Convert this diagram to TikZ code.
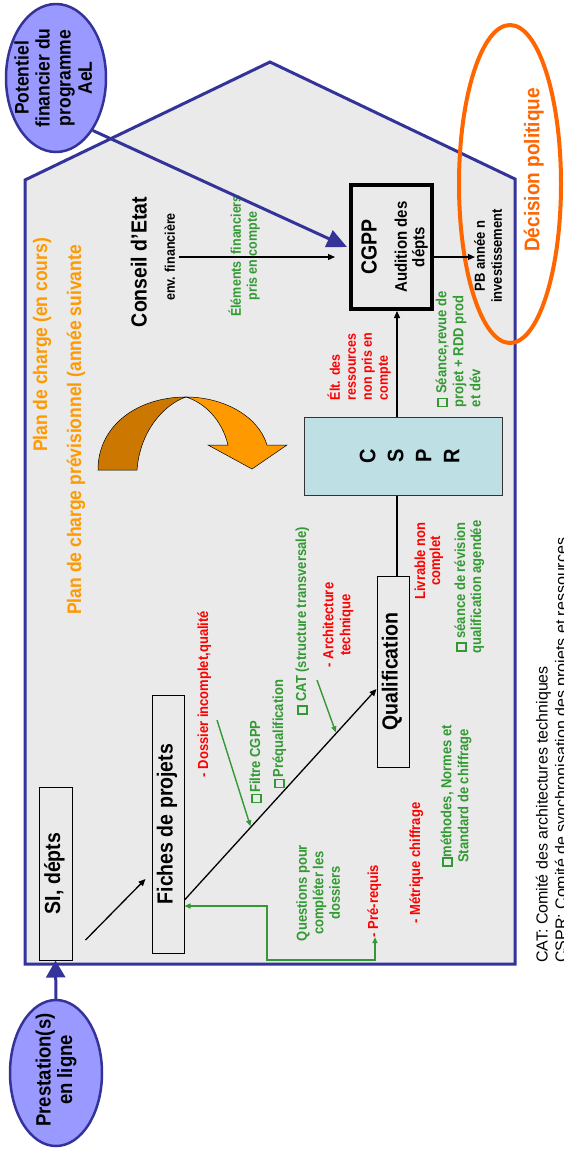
\documentclass[tikz,border=0pt]{standalone}
\usepackage{fontspec}
\usepackage{graphicx}
\setmainfont{Liberation Sans}
\usetikzlibrary{arrows.meta,shapes.geometric,calc}

\definecolor{hblue}{HTML}{333399}
\definecolor{hfill}{HTML}{EAEAEA}
\definecolor{lilac}{HTML}{9999FF}
\definecolor{gtxt}{HTML}{339933}
\definecolor{rtxt}{HTML}{FF0000}
\definecolor{otxt}{HTML}{FF9900}
\definecolor{odark}{HTML}{CC7700}
\definecolor{decor}{HTML}{FF6600}
\definecolor{cyanbox}{HTML}{BEE0E4}

% vertical (rotated) multi-line text, glyphs slightly taller than wide
\newcommand\vtext[2][c]{\rotatebox{90}{\scalebox{1}[1.12]{\begin{tabular}{@{}#1@{}}#2\end{tabular}}}}
% vertical text, plain proportions
\newcommand\vplain[2][c]{\rotatebox{90}{\begin{tabular}{@{}#1@{}}#2\end{tabular}}}
\newcommand\fsz[2]{\fontsize{#1}{#2}\selectfont}
\newcommand\sqbox{{\fboxsep=0pt\fboxrule=1.5pt\fbox{\rule{0pt}{0.5em}\rule{0.5em}{0pt}}}}

\tikzset{
  lbl/.style={inner sep=0pt, outer sep=0pt, font=\bfseries\fsz{13}{14.3}},
  grn/.style={lbl, text=gtxt},
  rd/.style={lbl, text=rtxt},
  box/.style={draw, line width=1pt, inner sep=0pt, font=\bfseries\fsz{19.5}{20}},
  blk/.style={line width=1.3pt, -{Triangle[length=7pt,width=6pt]}},
  garr/.style={draw=gtxt, line width=1.4pt, -{Triangle[length=6pt,width=5pt]}},
  bubble/.style={ellipse, draw=hblue, fill=lilac, line width=2.5pt, inner sep=0pt},
  bluearr/.style={draw=hblue, line width=3pt},
}

\begin{document}
\begin{tikzpicture}[x=1pt,y=-1pt]
\useasboundingbox (0,0) rectangle (563,1152);
\fill[white] (0,0) rectangle (563,1152);

% house-shaped frame
\draw[fill=hfill, draw=hblue, line width=3pt, line join=miter]
  (25,180) -- (270,62) -- (515,179) -- (515,964) -- (25,964) -- cycle;

% curved loop arrow
\draw[fill=odark, line width=0.5pt]
  (98,470) .. controls (98,425) and (138,397) .. (186,397)
  .. controls (165,404) and (140,430) .. (137,470) -- cycle;
\draw[fill=otxt, line width=0.5pt]
  (186,397) .. controls (222,397) and (258,415) .. (267,445)
  -- (287,445) -- (252,469) -- (208,445) -- (228,445)
  .. controls (222,420) and (205,403) .. (186,397) -- cycle;

% headings
\node[lbl, text=otxt, font=\bfseries\fsz{17.5}{18}] (plan1) at (43,345) {\vtext{Plan de charge (en cours)}};
\node[lbl, text=otxt, font=\bfseries\fsz{17.5}{18}] (plan2) at (77,430) {\vtext{Plan de charge prévisionnel (année suivante}};

% Conseil d'Etat
\node[lbl, font=\bfseries\fsz{19.5}{20}] (conseil) at (142,262) {\vtext{Conseil d’Etat}};
\node[lbl, font=\bfseries\fsz{12.5}{13}] (envfin) at (172,257) {\vtext{env. financière}};
\node[grn, font=\bfseries\fsz{12.5}{14.3}] (elem) at (245,256) {\vtext{Éléments\hspace{7pt}financiers\\pris en compte}};

% CGPP
\node[box, line width=4pt, minimum width=81pt, minimum height=124pt, font=\bfseries\fsz{15}{15.2}] (cgpp) at (391.5,247)
  {\vtext{\rule{0pt}{20.5pt}\fsz{19.5}{20}CGPP\\[11.6pt]Audition des\\dépts}};
\node[lbl, font=\bfseries\fsz{13}{15.2}] (pb) at (490,256) {\vtext{PB année n\\investissement}};

% CSPR
\node[box, fill=cyanbox, draw=black!80, minimum width=198pt, minimum height=78pt, font=\bfseries\fsz{20}{25}] (cspr) at (403,456)
  {\vtext{\rule{0pt}{33pt}C\\S\\P\\R}};
\node[rd, font=\bfseries\fsz{12.5}{14.3}, anchor=south] (elt) at (360,400) {\vtext[l]{Élt. des\\ressources\\non pris en\\compte}};
\node[grn, font=\bfseries\fsz{13}{15.2}, anchor=south] (seance) at (460,407) {\vtext[l]{\sqbox{} Séance,revue de\\projet + RDD prod\\et dév}};

% Qualification
\node[box, minimum width=32pt, minimum height=191pt] (qual) at (393,671.5) {\vtext{Qualification}};
\node[rd, font=\bfseries\fsz{13}{13.4}] (livr) at (429.5,561) {\vtext{Livrable non\\complet}};
\node[grn, font=\bfseries\fsz{13}{14.3}] (seanceq) at (470,587) {\vtext{\sqbox{} séance de révision\\qualification agendée}};
\node[grn] (cat) at (303,621) {\vtext{\sqbox{} CAT (structure transversale)}};
\node[rd, font=\bfseries\fsz{13}{15.2}] (arch) at (338.5,625) {\vtext{- Architecture\\technique}};
\node[rd] (dossier) at (205,694) {\vtext{- Dossier incomplet,qualité}};
\node[grn] (filtre) at (257,762) {\vtext{\sqbox\hspace{1pt}Filtre CGPP}};
\node[grn] (preq) at (280,734) {\vtext{\sqbox\hspace{1pt}Préqualification}};

% Fiches / SI
\node[box, minimum width=32pt, minimum height=258pt] (fiches) at (168,824) {\vtext{Fiches de projets}};
\node[box, minimum width=33pt, minimum height=173pt] (si) at (55.5,873.5) {\vtext{SI, dépts}};
\node[grn, font=\bfseries\fsz{13}{14.7}] (quest) at (320,893) {\vtext{Questions pour\\compléter les\\dossiers}};
\node[rd] (prereq) at (375,901) {\vtext{- Pré-requis}};
\node[rd] (metr) at (417,863) {\vtext{- Métrique chiffrage}};
\node[grn, font=\bfseries\fsz{13}{15.2}] (meth) at (456.5,796) {\vtext{\sqbox méthodes, Normes et\\Standard de chiffrage}};

% bubbles
\node[bubble, minimum width=100pt, minimum height=148pt] (pot) at (56,78) {};
\node[lbl, font=\bfseries\fsz{17.5}{18.8}] (pottext) at (pot.center) {\vtext{Potentiel\\financier du\\programme\\AeL}};
\node[bubble, minimum width=92pt, minimum height=146pt] (prest) at (56,1073) {};
\node[lbl, font=\bfseries\fsz{18.5}{18.8}] (presttext) at (57,1070) {\vtext{Prestation(s)\\en ligne}};

% political decision
\node[ellipse, draw=decor, line width=4pt, minimum width=102pt, minimum height=318pt, inner sep=0pt] (dec) at (510,184) {};
\node[lbl, text=decor, font=\bfseries\fsz{19}{20}] (dectext) at (535,170) {\vtext{Décision politique}};

% legend
\node[inner sep=0pt, anchor=south west, font=\fsz{16}{19}] (legend) at (534,963)
  {\vplain[l]{CAT: Comité des architectures techniques\\CSPR: Comité de synchronisation des projets et ressources}};

% connectors
\coordinate (xq) at (397,0);
\draw[bluearr, -{Triangle[length=20pt,width=18pt]}] (pot.-55) -- ($(cgpp.west)+(-2,0)$);
\draw[bluearr, -{Triangle[length=17pt,width=19pt]}] (prest.north) -- (si.south);

\coordinate (cgin) at ($(cgpp.west)+(-14,10)$);
\draw[blk] (envfin.east |- cgin) -- (cgin);
\coordinate (cgout) at ($(cgpp.east)+(-1,10)$);
\draw[blk] (cgout) -- ($(pb.west |- cgout)+(2,0)$);

\draw[blk] (cspr.north -| xq) -- (cgpp.south -| xq);
\draw[line width=1.3pt] (qual.north -| xq) -- (cspr.south -| xq);

\draw[blk] ($(si.east)+(13,66.5)$) -- ($(fiches.west)+(-6,55)$);
\draw[blk] ($(fiches.east)+(0,76)$) -- coordinate[pos=0.345] (d1) coordinate[pos=0.79] (d2) ($(qual.west)+(0,17.5)$);

\coordinate (g1s) at (217,720);
\coordinate (g2s) at (317,680);
\draw[garr, shorten >=1pt] (g1s) -- (d1);
\draw[garr, shorten >=1pt] (g2s) -- (d2);

\coordinate (gcorner) at (267,960);
\draw[draw=gtxt, line width=1.4pt, {Triangle[length=6pt,width=5pt]}-{Triangle[length=6pt,width=5pt]}]
  (prereq.south) |- (gcorner) |- ($(fiches.east)+(0,82)$);
\end{tikzpicture}
\end{document}
